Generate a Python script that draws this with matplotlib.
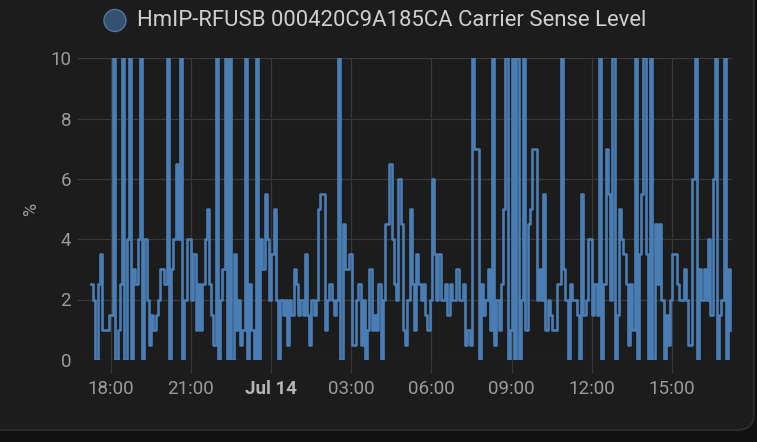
import matplotlib
matplotlib.use("Agg")
import matplotlib.pyplot as plt
from matplotlib.patches import FancyBboxPatch, Ellipse
import pandas as pd

# carrier sense level, one reading every 5 minutes from 17:16
values = [
    2.5, 2, 0, 2.5, 3.5, 1, 1, 1, 1.5,
    1.5, 10, 0, 1, 2.5, 10, 0, 4, 10, 0,
    3, 2.5, 4, 10, 0, 4, 2, 0.5, 1.5, 1, 1.5, 2, 3,
    3, 2.5, 10, 0, 3, 4, 6.5, 4, 10, 0, 2, 4, 4,
    2, 3.5, 1, 2.5, 1, 2.5, 4, 5, 2.5, 1.5, 0.5, 10, 0,
    2, 3, 10, 0, 10, 0, 3.5, 1, 2, 0.5, 1, 10, 0, 2.5,
    1, 0, 10, 0, 4, 3, 5.5, 4, 2, 3.5, 5, 2, 0,
    2, 1.5, 2, 0.5, 2, 1.5, 3, 2.5, 1.5, 2, 1.5, 3.5, 1.5, 0.5, 2, 1.5, 2, 5,
    5.5, 5.5, 1, 2, 2.5, 2, 1.5, 2, 10, 0, 4.5, 3, 3, 3.5, 0.5, 0.5, 2, 2.5,
    0.5, 2, 0, 1, 3, 1, 1.5, 1, 2.5, 0, 2, 4.5, 4.5, 6.5, 4, 2.5, 2, 6,
    4.5, 1, 0.5, 2, 5, 2.5, 1, 3.5, 2.5, 2, 2.5, 1.5, 1, 2, 6, 3.5, 2, 3.5,
    2, 2, 2.5, 1.5, 2.5, 2, 2, 3, 2, 2, 2.5, 0.5, 1, 0.5, 10, 7, 7, 0,
    2.5, 1.5, 2, 3, 1, 10, 0.5, 2, 1, 2.5, 5, 10, 0, 1, 10, 0, 10, 0,
    2, 10, 1, 4.5, 5, 7, 7, 2, 3, 2, 5.5, 1, 2, 1.5, 1, 1, 2.5, 2.5,
    10, 3, 2, 0, 2.5, 2, 2, 1.5, 0, 5.5, 1.5, 2, 4, 4, 1.5, 2.5, 1.5, 10,
    0, 2.5, 7, 5.5, 2, 10, 0, 1.5, 5, 4, 3.5, 2.5, 0.5, 2.5, 1, 10, 0, 3.5,
    5.5, 10, 3.5, 0, 10, 0, 4.5, 2.5, 4.5, 2, 0, 1.5, 0.5, 2, 3.5, 3.5, 2.5, 2,
    2, 3, 2, 0.5, 0.5, 6, 10, 0, 3, 2, 3, 2, 4, 1.5, 6, 10, 0, 1.5, 2, 10, 0, 3, 1,
]
start = "2024-07-13 17:16"
x_start, x_end = "2024-07-13 16:47", "2024-07-14 17:14"
tick_times = ["2024-07-13 18:00", "2024-07-13 21:00", "2024-07-14 00:00", "2024-07-14 03:00",
              "2024-07-14 06:00", "2024-07-14 09:00", "2024-07-14 12:00", "2024-07-14 15:00"]
tick_labels = ["18:00", "21:00", "Jul 14", "03:00", "06:00", "09:00", "12:00", "15:00"]
y_ticks = [0, 2, 4, 6, 8, 10]
title = "HmIP-RFUSB 000420C9A185CA Carrier Sense Level"

times = pd.date_range(start, periods=len(values), freq="5min")

W, H = 757, 442
plt.rcParams["font.family"] = ["Roboto", "DejaVu Sans"]
fig = plt.figure(figsize=(W / 100, H / 100), dpi=100)
fig.patch.set_facecolor("#111111")

# card background
card = FancyBboxPatch((-20 / W, 1 - 430 / H), (754 + 20) / W, 430 / H + 0.1,
                      transform=fig.transFigure,
                      boxstyle="round,pad=0,rounding_size=0.022", mutation_aspect=W / H,
                      facecolor="#1c1c1c", edgecolor="#2f2f2f", lw=1.2, zorder=-10)
fig.add_artist(card)

ax = fig.add_axes([78 / W, 1 - 359.8 / H, (731.7 - 78) / W, (359.8 - 58.3) / H])
ax.set_facecolor("none")
ax.step(times, values, where="post", color="#4a7db4", lw=1.9, zorder=3)

ax.set_xlim(pd.Timestamp(x_start), pd.Timestamp(x_end))
ax.set_ylim(0, 10)
ax.set_yticks(y_ticks)
ax.set_xticks([pd.Timestamp(t) for t in tick_times])
ax.set_xticklabels(tick_labels)
for s in ax.spines.values():
    s.set_visible(False)
ax.grid(True, color="#383838", lw=0.9, zorder=0)
ax.tick_params(axis="x", length=9, width=0.9, color="#383838", colors="#9a9a9a",
               labelsize=13.5, pad=5.5)
ax.tick_params(axis="y", length=0, colors="#9a9a9a", labelsize=13.5, pad=5)
for lab in ax.get_xticklabels():
    lab.set_color("#9a9a9a")
    if lab.get_text() == "Jul 14":
        lab.set_fontweight("bold")
        lab.set_color("#b4b4b4")
ax.set_ylabel("%", color="#9a9a9a", fontsize=13, labelpad=7)

# legend entry at the top
fig.add_artist(Ellipse((115 / W, 1 - 20.5 / H), 22 / W, 22 / H, transform=fig.transFigure,
                       facecolor="#34506f", edgecolor="#52779f", lw=1))
fig.text(137 / W, 1 - 21 / H, title, color="#cfcfcf", fontsize=15.9, va="center", ha="left")

fig.savefig("out.png", dpi=100, facecolor=fig.get_facecolor())
